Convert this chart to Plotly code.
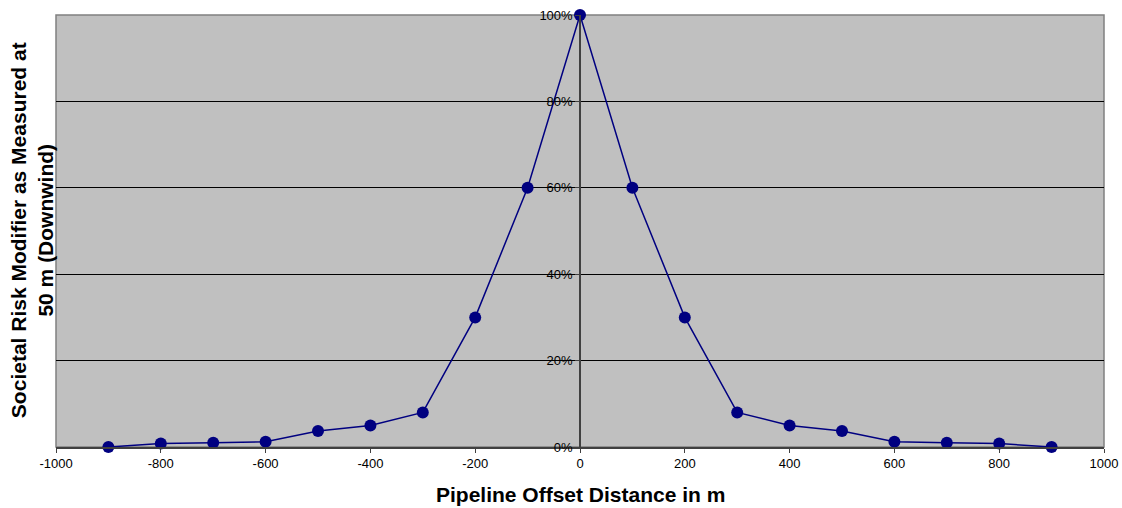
import plotly.graph_objects as go

offsets = [-900, -800, -700, -600, -500, -400, -300, -200, -100, 0,
           100, 200, 300, 400, 500, 600, 700, 800, 900]
modifier = [0.0, 0.008, 0.01, 0.012, 0.037, 0.05, 0.08, 0.30, 0.60, 1.0,
            0.60, 0.30, 0.08, 0.05, 0.037, 0.012, 0.01, 0.008, 0.0]
x_ticks = [-1000, -800, -600, -400, -200, 0, 200, 400, 600, 800, 1000]
y_ticks = [0, 0.2, 0.4, 0.6, 0.8, 1.0]
y_labels = ["0%", "20%", "40%", "60%", "80%", "100%"]

FONT = "Liberation Sans, Arial, sans-serif"

fig = go.Figure()
fig.add_trace(go.Scatter(
    x=offsets, y=modifier, mode="lines+markers",
    line=dict(color="#000080", width=1.5),
    marker=dict(color="#000080", size=12),
    cliponaxis=False, showlegend=False,
))

fig.update_layout(
    width=1122, height=508,
    margin=dict(l=56, r=18, t=15, b=61, autoexpand=False),
    paper_bgcolor="white", plot_bgcolor="#C0C0C0",
    font=dict(family=FONT, size=13, color="black"),
    xaxis=dict(
        range=[-1000, 1000], tickvals=x_ticks, ticktext=[str(v) for v in x_ticks],
        automargin=False,
        showgrid=False, zeroline=False, showline=True, linecolor="#404040", linewidth=1.5,
        ticks="outside", ticklen=4, tickcolor="#404040",
        tickfont=dict(size=13, family=FONT, color="black"),
    ),
    yaxis=dict(
        range=[0, 1.0], tickvals=y_ticks, ticktext=y_labels,
        anchor="free", position=0.5, automargin=False,
        showgrid=True, gridcolor="black", gridwidth=1,
        zeroline=False, showline=True, linecolor="#404040", linewidth=1.5,
        ticks="outside", ticklen=4, tickcolor="#404040",
        tickfont=dict(size=13, family=FONT, color="black"),
    ),
)

fig.add_shape(type="rect", xref="paper", yref="paper", x0=0, x1=1, y0=0, y1=1,
              line=dict(color="#808080", width=1.5), layer="between")

fig.add_annotation(
    text="<b>Pipeline Offset Distance in m</b>",
    xref="paper", yref="paper", x=0.5, y=-0.1088, xanchor="center", yanchor="middle",
    showarrow=False, font=dict(size=21, family=FONT, color="black"),
)

fig.add_annotation(
    text="<b>Societal Risk Modifier as Measured at<br>50 m (Downwind)</b>",
    xref="paper", yref="paper", x=-0.0229, y=0.502, xanchor="center", yanchor="middle",
    textangle=-90, showarrow=False, font=dict(size=21, family=FONT, color="black"), align="center",
)

fig.write_html("out.html")
